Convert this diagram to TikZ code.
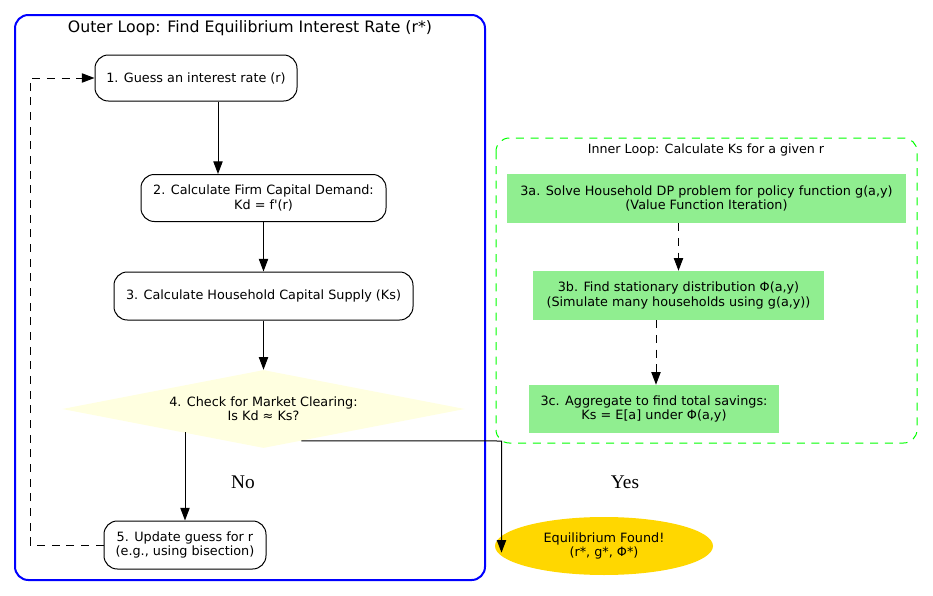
\documentclass[tikz,border=0pt]{standalone}
\usepackage{fontspec}
\newfontfamily\dv{DejaVu Sans}[Ligatures=TeXOff]
\newfontfamily\lserif{Liberation Serif}
\usetikzlibrary{shapes.geometric,arrows.meta}
\definecolor{lgreen}{HTML}{90EE90}
\definecolor{lyellow}{HTML}{FFFFE0}
\definecolor{goldc}{HTML}{FFD700}
\definecolor{bgreen}{HTML}{00FF00}
\begin{document}
\begin{tikzpicture}[x=0.75pt,y=-0.75pt,
  every node/.style={font=\dv\fontsize{9.6}{10.8}\selectfont, align=center, inner sep=0pt},
  rbox/.style={draw=black, fill=white, line width=0.75pt, rounded corners=10pt},
  gbox/.style={fill=lgreen, draw=none},
  edge/.style={line width=0.75pt, -{Triangle[length=9.5pt,width=7pt]}},
  dedge/.style={edge, dash pattern=on 6pt off 5pt},
  lbl/.style={font=\lserif\fontsize{14.5}{16}\selectfont}
]
\useasboundingbox (0,0) rectangle (933,596);
% clusters
\draw[blue, line width=1.5pt, rounded corners=10pt] (15,15) rectangle (485,580);
\node[font=\dv\fontsize{11.8}{13}\selectfont] (otitle) at (250,28) {Outer Loop: Find Equilibrium Interest Rate (r*)};
\draw[bgreen, line width=0.75pt, dash pattern=on 6pt off 5pt, rounded corners=10pt] (496,138) rectangle (917,443);
\node[font=\dv\fontsize{9.5}{11}\selectfont] (ititle) at (706,150) {Inner Loop: Calculate Ks for a given r};
% outer nodes
\node[rbox, minimum width=151.5pt, minimum height=34.5pt] (n1) at (196,78) {1. Guess an interest rate (r)};
\node[rbox, minimum width=183.75pt, minimum height=35.25pt] (n2) at (263.5,198) {2. Calculate Firm Capital Demand:\\Kd = f'(r)};
\node[rbox, minimum width=224.25pt, minimum height=36pt] (n3) at (263.5,296) {3. Calculate Household Capital Supply (Ks)};
\node[diamond, fill=lyellow, aspect=5.16, minimum width=302pt, minimum height=58.5pt] (n4) at (263.5,409) {4. Check for Market Clearing:\\Is Kd ≈ Ks?};
\node[rbox, minimum width=121.5pt, minimum height=36pt] (n5) at (185,545) {5. Update guess for r\\(e.g., using bisection)};
\node[ellipse, fill=goldc, minimum width=163.5pt, minimum height=43.5pt] (eq) at (604,546) {Equilibrium Found!\\(r*, g*, Φ*)};
% inner nodes
\node[gbox, minimum width=299.25pt, minimum height=36.75pt] (a3) at (706.5,198.5) {3a. Solve Household DP problem for policy function g(a,y)\\(Value Function Iteration)};
\node[gbox, minimum width=218.25pt, minimum height=36.75pt] (b3) at (678.5,295.5) {3b. Find stationary distribution Φ(a,y)\\(Simulate many households using g(a,y))};
\node[gbox, minimum width=187.5pt, minimum height=36pt] (c3) at (654,409) {3c. Aggregate to find total savings:\\Ks = E[a] under Φ(a,y)};
% coordinates
\coordinate (lx) at (30,0);
\coordinate (yb) at (501.5,441);
% edges
\draw[edge] ([xshift=16.5pt]n1.south) -- ([xshift=16.5pt]n1.south |- n2.north);
\draw[edge] (n2.south) -- (n3.north);
\draw[edge] (n3.south) -- (n4.north);
\draw[edge] (n5.north |- n4.196.7) -- (n5.north);
\draw[edge] (n4.-40) -- (yb) -- ([yshift=-5pt]yb |- eq.center);
\draw[dedge] (n5.west) -- (n5.west -| lx) -- (n1.west -| lx) -- (n1.west);
\draw[dedge] (b3.north |- a3.south) -- (b3.north);
\draw[dedge] ([xshift=1.5pt]c3.north |- b3.south) -- ([xshift=1.5pt]c3.north);
% labels
\node[lbl] (no) at (243,482) {No};
\node[lbl] (yes) at (625,482) {Yes};
\end{tikzpicture}
\end{document}
